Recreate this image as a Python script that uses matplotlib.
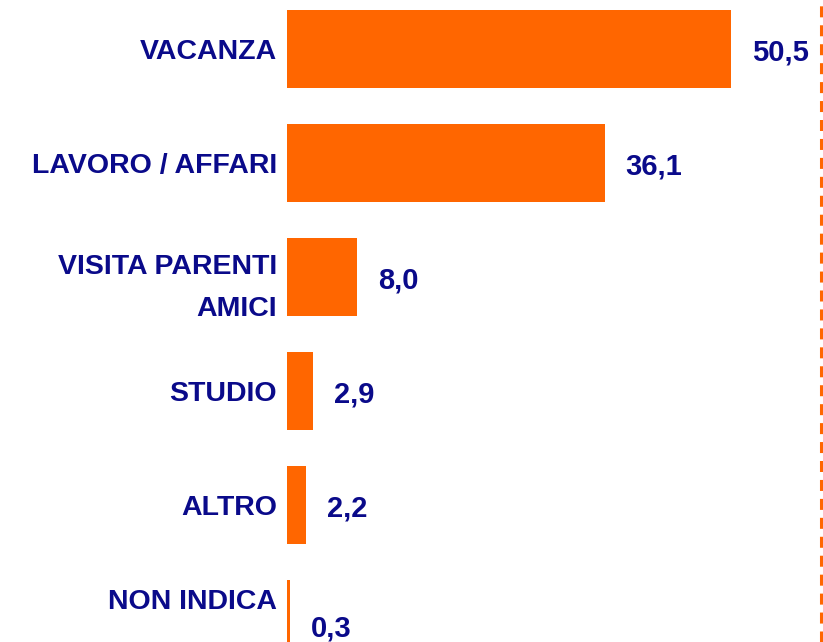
import matplotlib
matplotlib.use('Agg')
import matplotlib.pyplot as plt
from matplotlib.transforms import ScaledTranslation

# Dati
categorie = ['VACANZA', 'LAVORO / AFFARI', 'VISITA PARENTI\nAMICI', 'STUDIO', 'ALTRO', 'NON INDICA']
valori = [50.5, 36.1, 8.0, 2.9, 2.2, 0.3]
etichette = ['50,5', '36,1', '8,0', '2,9', '2,2', '0,3']

ARANCIO = '#FF6600'
BLU = '#0A0A8A'

plt.rcParams['font.family'] = ['Liberation Sans', 'DejaVu Sans']

fig = plt.figure(figsize=(8.23, 6.42), dpi=100)
ax = fig.add_axes([287 / 823, 0, (821 - 287) / 823, 1])

pos = list(range(len(categorie)))
ax.barh(pos, valori, height=0.685, color=ARANCIO)

ax.set_xlim(0, 60.7)
ax.set_ylim(5.20, -0.43)

for p, v, t in zip(pos, valori, etichette):
    dy = -9 if p == pos[-1] else -3
    ax.annotate(t, xy=(v, p), xytext=(21, dy), textcoords='offset pixels',
                ha='left', va='center', fontsize=21, fontweight='bold', color=BLU)

ax.set_yticks(pos)
ax.set_yticklabels(categorie, fontsize=20.5, fontweight='bold', color=BLU, linespacing=1.78)
ax.tick_params(axis='y', length=0, pad=7)
ax.set_xticks([])

# ultima etichetta spostata in alto come nell'originale
lab = ax.get_yticklabels()[-1]
lab.set_transform(lab.get_transform() + ScaledTranslation(0, 20 / 100, fig.dpi_scale_trans))

for s in ['left', 'top', 'bottom', 'right']:
    ax.spines[s].set_visible(False)

ax.axvline(60.7 - 0.05, color=ARANCIO, lw=2.2, linestyle=(0, (3.6, 2.6)), clip_on=False)

fig.savefig('out.png', dpi=100)
